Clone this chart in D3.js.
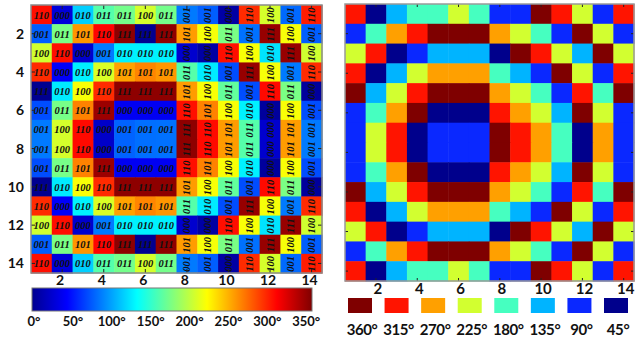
<!DOCTYPE html>
<html>
<head>
<meta charset="utf-8">
<script src="https://cdn.jsdelivr.net/npm/d3@7"></script>
<style>
  body { margin: 0; background: #fff; }
  svg { display: block; }
  .tick-label { font-family: Lato, "Open Sans", sans-serif; font-weight: bold; fill: #111; }
  .bits { font-family: "Liberation Serif", "DejaVu Serif", serif; font-weight: bold; font-style: italic; font-size: 10.5px; fill: #111; }
</style>
</head>
<body>
<div class="chart"></div>
<script>
// grid index (1..14) and which ones get a tick label
var cells = [1, 2, 3, 4, 5, 6, 7, 8, 9, 10, 11, 12, 13, 14];
var axisTicks = [2, 4, 6, 8, 10, 12, 14];

// left panel: phase in degrees, one row per line (row 1 at top)
var phaseRows = [
  [310, 30, 118, 165, 176, 210, 176, 88, 78, 8, 300, 210, 82, 305],
  [78, 178, 262, 314, 355, -2, 355, 260, 222, 178, 85, 352, 222, 78],
  [208, 310, 25, 88, 130, 130, 130, 25, 8, 310, 223, 125, 352, 208],
  [300, 43, 130, 212, 258, 268, 262, 165, 128, 72, 352, 222, 88, 300],
  [-2, 128, 223, 300, 355, 355, 355, 260, 223, 170, 72, 312, 178, 5],
  [72, 177, 269, 350, 40, 40, 40, 310, 269, 223, 130, 5, 223, 72],
  [88, 210, 312, 23, 80, 84, 85, 355, 312, 260, 165, 25, 260, 88],
  [88, 210, 312, 23, 80, 84, 85, 355, 312, 260, 165, 25, 260, 88],
  [72, 177, 269, 350, 40, 40, 40, 310, 269, 223, 130, 5, 223, 72],
  [-2, 128, 223, 300, 355, 355, 355, 260, 223, 170, 72, 312, 178, 5],
  [300, 43, 130, 212, 258, 268, 262, 165, 128, 72, 352, 222, 88, 300],
  [208, 310, 25, 88, 130, 130, 130, 25, 8, 310, 223, 125, 352, 208],
  [78, 178, 262, 314, 355, -2, 355, 260, 222, 178, 85, 352, 222, 78],
  [310, 30, 118, 165, 176, 210, 176, 88, 78, 8, 300, 210, 82, 305]
];

// left panel: 3-bit code written in each cell
var bitRows = [
  ["110","000","010","011","011","100","011","001","001","000","110","100","001","110"],
  ["001","011","101","110","111","111","111","101","100","011","001","111","100","001"],
  ["100","110","000","001","010","010","010","000","000","110","100","010","111","100"],
  ["110","000","010","100","101","101","101","011","010","001","111","100","001","110"],
  ["111","010","100","110","111","111","111","101","100","011","001","110","011","000"],
  ["001","011","101","111","000","000","000","110","101","100","010","000","100","001"],
  ["001","100","110","000","001","001","001","111","110","101","011","000","101","001"],
  ["001","100","110","000","001","001","001","111","110","101","011","000","101","001"],
  ["001","011","101","111","000","000","000","110","101","100","010","000","100","001"],
  ["111","010","100","110","111","111","111","101","100","011","001","110","011","000"],
  ["110","000","010","100","101","101","101","011","010","001","111","100","001","110"],
  ["100","110","000","001","010","010","010","000","000","110","100","010","111","100"],
  ["001","011","101","110","111","111","111","101","100","011","001","111","100","001"],
  ["110","000","010","011","011","100","011","001","001","000","110","100","001","110"]
];

// right panel: phase quantised to 8 levels
var levelRows = [
  [315, 45, 135, 180, 180, 225, 180, 90, 90, 360, 315, 225, 90, 315],
  [90, 180, 270, 315, 360, 360, 360, 270, 225, 180, 90, 360, 225, 90],
  [225, 315, 45, 90, 135, 135, 135, 45, 360, 315, 225, 135, 360, 225],
  [315, 45, 135, 225, 270, 270, 270, 180, 135, 90, 360, 225, 90, 315],
  [360, 135, 225, 315, 360, 360, 360, 270, 225, 180, 90, 315, 180, 360],
  [90, 180, 270, 360, 45, 45, 45, 315, 270, 225, 135, 360, 225, 90],
  [90, 225, 315, 45, 90, 90, 90, 360, 315, 270, 180, 45, 270, 90],
  [90, 225, 315, 45, 90, 90, 90, 360, 315, 270, 180, 45, 270, 90],
  [90, 180, 270, 360, 45, 45, 45, 315, 270, 225, 135, 360, 225, 90],
  [360, 135, 225, 315, 360, 360, 360, 270, 225, 180, 90, 315, 180, 360],
  [315, 45, 135, 225, 270, 270, 270, 180, 135, 90, 360, 225, 90, 315],
  [225, 315, 45, 90, 135, 135, 135, 45, 360, 315, 225, 135, 360, 225],
  [90, 180, 270, 315, 360, 360, 360, 270, 225, 180, 90, 360, 225, 90],
  [315, 45, 135, 180, 180, 225, 180, 90, 90, 360, 315, 225, 90, 315]
];

var colorbarTicks = [0, 50, 100, 150, 200, 250, 300, 350];
var legendLevels = [360, 315, 270, 225, 180, 135, 90, 45];

var width = 635, height = 341;

var svg = d3.select(".chart").append("svg")
            .attr("width", width)
            .attr("height", height);

// jet colour map over 0..360 degrees
var jetStops = [0, 45, 135, 225, 315, 360];
var jet = d3.scaleLinear()
            .domain(jetStops)
            .range(["#000090", "#0000ff", "#00ffff", "#ffff00", "#ff0000", "#800000"])
            .clamp(true);

var levelColor = d3.scaleOrdinal()
                   .domain(legendLevels)
                   .range(["#7f0000", "#ff1400", "#ffa000", "#d2ff30", "#46ffc0", "#00b4ff", "#0a28ff", "#00008c"]);

var flat = function(rows) {
  var out = [];
  rows.forEach(function(r, i) {
    r.forEach(function(v, j) { out.push({row: cells[i], col: cells[j], value: v}); });
  });
  return out;
};

var drawTicks = function(g, x, y, x0, x1, y0, y1, len) {
  axisTicks.forEach(function(t) {
    var cx = x(t) + x.bandwidth() / 2;
    var cy = y(t) + y.bandwidth() / 2;
    g.append("line").attr("x1", cx).attr("x2", cx).attr("y1", y0).attr("y2", y0 + len);
    g.append("line").attr("x1", cx).attr("x2", cx).attr("y1", y1).attr("y2", y1 - len);
    g.append("line").attr("x1", x0).attr("x2", x0 + len).attr("y1", cy).attr("y2", cy);
    g.append("line").attr("x1", x1).attr("x2", x1 - len).attr("y1", cy).attr("y2", cy);
  });
  g.selectAll("line").attr("stroke", "#222").attr("stroke-width", 1);
};

// ---------- left panel ----------
var L = {x0: 31, x1: 322, y0: 5, y1: 273};
var xL = d3.scaleBand().domain(cells).range([L.x0, L.x1]);
var yL = d3.scaleBand().domain(cells).range([L.y0, L.y1]);

var left = svg.append("g");
left.selectAll("rect.cell")
    .data(flat(phaseRows))
    .enter().append("rect")
    .attr("class", "cell")
    .attr("x", function(d) { return xL(d.col); })
    .attr("y", function(d) { return yL(d.row); })
    .attr("width", xL.bandwidth() + 0.5)
    .attr("height", yL.bandwidth() + 0.5)
    .attr("fill", function(d) { return jet(d.value); });

left.selectAll("text.bits")
    .data(flat(bitRows))
    .enter().append("text")
    .attr("class", "bits")
    .attr("text-anchor", "middle")
    .attr("dominant-baseline", "central")
    .attr("transform", function(d) {
      var cx = xL(d.col) + xL.bandwidth() / 2;
      var cy = yL(d.row) + yL.bandwidth() / 2 + 0.5;
      return d.col >= 8 ? "translate(" + cx + "," + cy + ") rotate(-90)" : "translate(" + cx + "," + cy + ")";
    })
    .text(function(d) { return d.value; });

drawTicks(left.append("g"), xL, yL, L.x0, L.x1, L.y0, L.y1, 4);

left.append("rect")
    .attr("x", L.x0).attr("y", L.y0)
    .attr("width", L.x1 - L.x0).attr("height", L.y1 - L.y0)
    .attr("fill", "none").attr("stroke", "#8a8a8a").attr("stroke-width", 1.5);

left.selectAll("text.ylab")
    .data(axisTicks).enter().append("text")
    .attr("class", "tick-label")
    .attr("x", 24)
    .attr("y", function(d) { return yL(d) + yL.bandwidth() / 2 + 5; })
    .attr("text-anchor", "end")
    .style("font-size", "14px")
    .text(function(d) { return d; });

left.selectAll("text.xlab")
    .data(axisTicks).enter().append("text")
    .attr("class", "tick-label")
    .attr("x", function(d) { return xL(d) + xL.bandwidth() / 2 - 2; })
    .attr("y", 285)
    .attr("text-anchor", "middle")
    .style("font-size", "14px")
    .text(function(d) { return d; });

// colorbar
var cbar = {x0: 32, x1: 312, y0: 288, y1: 311};
var cx = d3.scaleLinear().domain([0, 360]).range([cbar.x0, cbar.x1]);
var grad = svg.append("defs").append("linearGradient").attr("id", "jetGrad");
grad.selectAll("stop").data(jetStops).enter().append("stop")
    .attr("offset", function(d) { return (d / 360 * 100) + "%"; })
    .attr("stop-color", function(d) { return jet(d); });

svg.append("rect")
   .attr("x", cbar.x0).attr("y", cbar.y0)
   .attr("width", cbar.x1 - cbar.x0).attr("height", cbar.y1 - cbar.y0)
   .attr("fill", "url(#jetGrad)")
   .attr("stroke", "#777").attr("stroke-width", 1);

svg.selectAll("text.cbar")
   .data(colorbarTicks).enter().append("text")
   .attr("class", "tick-label")
   .attr("x", function(d) { return cx(d) + 2; })
   .attr("y", 326)
   .attr("text-anchor", "middle")
   .style("font-size", "13px")
   .text(function(d) { return d + "°"; });

// ---------- right panel ----------
var R = {x0: 345, x1: 634, y0: 4, y1: 281};
var xR = d3.scaleBand().domain(cells).range([R.x0, R.x1]);
var yR = d3.scaleBand().domain(cells).range([R.y0, R.y1]);

var right = svg.append("g");
right.selectAll("rect.cell")
     .data(flat(levelRows))
     .enter().append("rect")
     .attr("class", "cell")
     .attr("x", function(d) { return xR(d.col); })
     .attr("y", function(d) { return yR(d.row); })
     .attr("width", xR.bandwidth() + 0.5)
     .attr("height", yR.bandwidth() + 0.5)
     .attr("fill", function(d) { return levelColor(d.value); });

drawTicks(right.append("g"), xR, yR, R.x0, R.x1, R.y0, R.y1, 3);

right.append("rect")
     .attr("x", R.x0).attr("y", R.y0)
     .attr("width", R.x1 - R.x0).attr("height", R.y1 - R.y0)
     .attr("fill", "none").attr("stroke", "#999").attr("stroke-width", 1.5);

right.selectAll("text.xlab")
     .data(axisTicks).enter().append("text")
     .attr("class", "tick-label")
     .attr("x", function(d) { return xR(d) + xR.bandwidth() / 2 + 2; })
     .attr("y", 294)
     .attr("text-anchor", "middle")
     .style("font-size", "15px")
     .text(function(d) { return d; });

// discrete legend
var lx = d3.scalePoint().domain(legendLevels).range([360, 616]);
var legend = svg.append("g");
legend.selectAll("rect")
      .data(legendLevels).enter().append("rect")
      .attr("x", function(d) { return lx(d) - 12; })
      .attr("y", 298)
      .attr("width", 24)
      .attr("height", 15)
      .attr("fill", function(d) { return levelColor(d); });

legend.selectAll("text")
      .data(legendLevels).enter().append("text")
      .attr("class", "tick-label")
      .attr("x", function(d) { return lx(d) + 2; })
      .attr("y", 335)
      .attr("text-anchor", "middle")
      .style("font-size", "15px")
      .style("letter-spacing", "-0.4px")
      .text(function(d) { return d + "°"; });
</script>
</body>
</html>
